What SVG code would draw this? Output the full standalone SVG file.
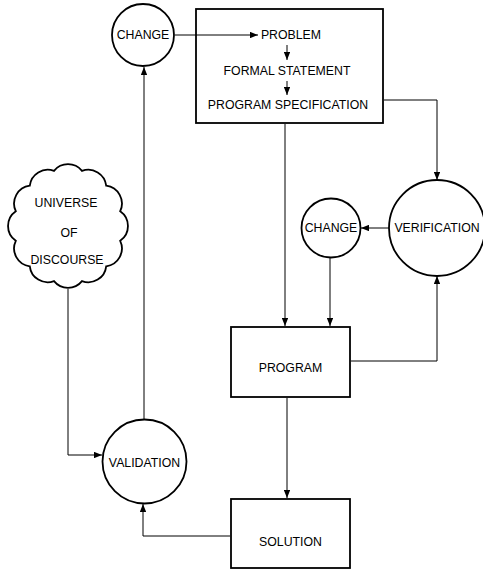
<svg xmlns="http://www.w3.org/2000/svg" width="483" height="570" viewBox="0 0 483 570">
<defs>
<marker id="ah" viewBox="0 0 10 8" refX="10" refY="4" markerWidth="8" markerHeight="6.4" markerUnits="userSpaceOnUse" orient="auto">
<path d="M0,0 L10,4 L0,8 Z" fill="#000"/>
</marker>
<style>
.shape{fill:#fff;stroke:#000;stroke-width:1.8}
.conn{fill:none;stroke:#000;stroke-width:1;marker-end:url(#ah)}
text{font-family:"Liberation Sans",Arial,sans-serif;font-size:12.3px;fill:#000;text-anchor:middle}
</style>
</defs>
<rect width="483" height="570" fill="#fff"/>
<g id="change-top">
<circle class="shape" cx="143" cy="35" r="31"/>
<text x="143" y="39.3">CHANGE</text>
</g>
<g id="spec-box">
<rect class="shape" x="196" y="9" width="187" height="114"/>
<text x="291" y="39.3">PROBLEM</text>
<text x="287" y="75.3">FORMAL STATEMENT</text>
<text x="288" y="109.3">PROGRAM SPECIFICATION</text>
</g>
<g id="universe">
<path class="shape" d="M15.8,211.2 A18,18 0 0 1 29.8,185.7 A18,18 0 0 1 54,170.9 A18,18 0 0 1 82,170.9 A18,18 0 0 1 106.2,185.7 A18,18 0 0 1 120.2,211.2 A18,18 0 0 1 120.2,240.8 A18,18 0 0 1 106.2,266.3 A18,18 0 0 1 82,281.1 A18,18 0 0 1 54,281.1 A18,18 0 0 1 29.8,266.3 A18,18 0 0 1 15.8,240.8 A18,18 0 0 1 15.8,211.2 Z"/>
<text x="66" y="207.3">UNIVERSE</text>
<text x="69" y="237.3">OF</text>
<text x="67" y="264.3">DISCOURSE</text>
</g>
<g id="verification">
<circle class="shape" cx="437" cy="228" r="48"/>
<text x="437" y="232.3">VERIFICATION</text>
</g>
<g id="change-right">
<circle class="shape" cx="331" cy="228" r="29.5"/>
<text x="331" y="232.3">CHANGE</text>
</g>
<g id="program">
<rect class="shape" x="231" y="327" width="119" height="70"/>
<text x="290.5" y="372.3">PROGRAM</text>
</g>
<g id="validation">
<circle class="shape" cx="144.5" cy="461.5" r="42"/>
<text x="144.5" y="466.5">VALIDATION</text>
</g>
<g id="solution">
<rect class="shape" x="231" y="499" width="119" height="69"/>
<text x="290.5" y="546.3">SOLUTION</text>
</g>
<g id="connectors">
<path class="conn" d="M175,35 H258"/>
<path class="conn" d="M287,45 V60"/>
<path class="conn" d="M287,81 V95"/>
<path class="conn" d="M384,100 H437 V180"/>
<path class="conn" d="M285,124 V326"/>
<path class="conn" d="M389,228 H361"/>
<path class="conn" d="M330,258 V326"/>
<path class="conn" d="M351,361 H437 V276"/>
<path class="conn" d="M287,398 V498"/>
<path class="conn" d="M230,536 H143 V504"/>
<path class="conn" d="M144,420 V67"/>
<path class="conn" d="M68,289 V455 H102"/>
</g>
</svg>
